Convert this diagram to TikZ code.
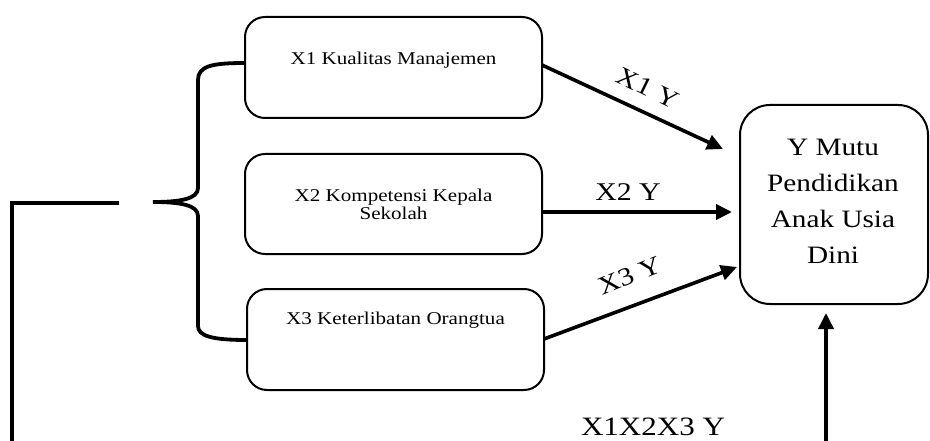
\documentclass[tikz,border=0pt]{standalone}
\usepackage{fontspec}
\setmainfont{Liberation Serif}[FakeStretch=1.17]
\usetikzlibrary{arrows.meta,calc}
\tikzset{
  box/.style={draw, line width=2pt, rounded corners=20pt, inner sep=0pt},
  boxtext/.style={font=\fontsize{18}{18}\selectfont, align=center, inner sep=0pt},
  ytext/.style={font=\fontsize{25}{36}\selectfont, align=center, inner sep=0pt},
  lbl/.style={font=\fontsize{25.5}{28}\selectfont, inner sep=0pt},
  arr/.style={line width=3.6pt, -{Triangle[length=16pt,width=15pt]}},
  thick line/.style={line width=3.8pt},
}
\begin{document}
\begin{tikzpicture}[x=1pt,y=-1pt]
\useasboundingbox (0,0) rectangle (930,441);
% boxes
\node[box, minimum width=297pt, minimum height=101pt] (x1) at (393.5,67.5) {};
\node[boxtext] (x1t) at (393.5,60) {X1 Kualitas Manajemen};
\node[box, minimum width=297pt, minimum height=100pt] (x2) at (393.5,204) {};
\node[boxtext] (x2t) at (393.5,204) {X2 Kompetensi Kepala\\Sekolah};
\node[box, minimum width=297pt, minimum height=101pt] (x3) at (395.5,339.5) {};
\node[boxtext] (x3t) at (395.5,320) {X3 Keterlibatan Orangtua};
\node[box, minimum width=188pt, minimum height=199pt, rounded corners=30pt] (y) at (834,204.5) {};
\node[ytext] (yt) at (833,201) {Y Mutu\\Pendidikan\\Anak Usia\\Dini};
% arrow ends
\coordinate (t1) at (723,149);
\coordinate (t2) at (732,212);
\coordinate (t3) at (737,267);
\coordinate (b4) at (826,441);
\coordinate (s1) at (542,65);
\coordinate (s3) at (544,339);
\draw[arr] (s1) -- (t1);
\draw[arr] (x2.east |- t2) -- (t2);
\draw[arr] (s3) -- (t3);
\draw[arr, shorten >=8pt] (b4) -- (b4 |- y.south);
% labels
\node[lbl, rotate=-26] (l1) at (648,88) {X1 Y};
\node[lbl] (l2) at (628,192) {X2 Y};
\node[lbl, rotate=22] (l3) at (630,276) {X3 Y};
\node[font=\fontsize{26.5}{30}\selectfont, inner sep=0pt] (l4) at (653,427) {X1X2X3 Y};
% brace
\coordinate (bt) at (245,63);
\coordinate (bb) at (247,340);
\coordinate (tip) at (153,202);
\draw[thick line] (bt) .. controls (212,63) and (198,66) .. (198,80)
  -- (198,188) .. controls (198,199) and (180,202) .. (tip)
  .. controls (180,202) and (198,205) .. (198,216)
  -- (198,326) .. controls (198,336) and (212,340) .. (bb);
% left line
\coordinate (h1) at (119,203);
\coordinate (h2) at (12,203);
\coordinate (h3) at (12,441);
\draw[thick line] (h1) -- (h2) -- (h3);
\end{tikzpicture}
\end{document}
